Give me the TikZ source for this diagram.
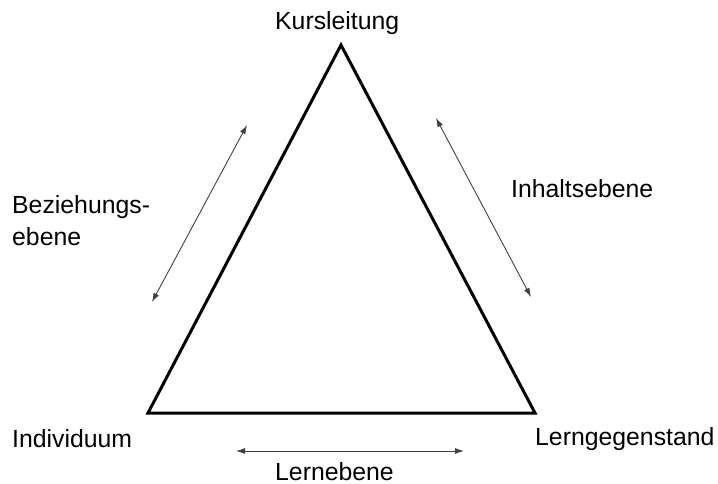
\documentclass[tikz,border=0pt]{standalone}
\usepackage{fontspec}
\setmainfont{Liberation Sans}
\usetikzlibrary{arrows.meta}
\begin{document}
\begin{tikzpicture}[x=1pt,y=-1pt,
  lbl/.style={anchor=base west,inner sep=0pt,font=\fontsize{24.8}{29}\selectfont},
  tri/.style={line width=3pt,line join=miter},
  rel/.style={line width=0.9pt,draw=black!75,{Latex[length=9pt,width=6pt]}-{Latex[length=9pt,width=6pt]}}]
\useasboundingbox (0,0) rectangle (718,484);
\coordinate (top) at (341,45);
\coordinate (bl) at (148,413);
\coordinate (br) at (535,413);
\draw[tri] (top) -- (br) -- (bl) -- cycle;
\coordinate (a1) at (152,302);
\coordinate (a2) at (247,125);
\coordinate (b1) at (436,118);
\coordinate (b2) at (531,297);
\coordinate (c1) at (236,451);
\coordinate (c2) at (464,451);
\draw[rel] (a1) -- (a2);
\draw[rel] (b1) -- (b2);
\draw[rel] (c1) -- (c2);
\node[lbl] (kl) at (275,30) {Kursleitung};
\node[lbl] (bz1) at (12,213) {Beziehungs-};
\node[lbl] (bz2) at (12,245) {ebene};
\node[lbl] (ih) at (511,197) {Inhaltsebene};
\node[lbl] (ind) at (12,447) {Individuum};
\node[lbl] (lg) at (535,445) {Lerngegenstand};
\node[lbl] (le) at (275,480) {Lernebene};
\end{tikzpicture}
\end{document}
